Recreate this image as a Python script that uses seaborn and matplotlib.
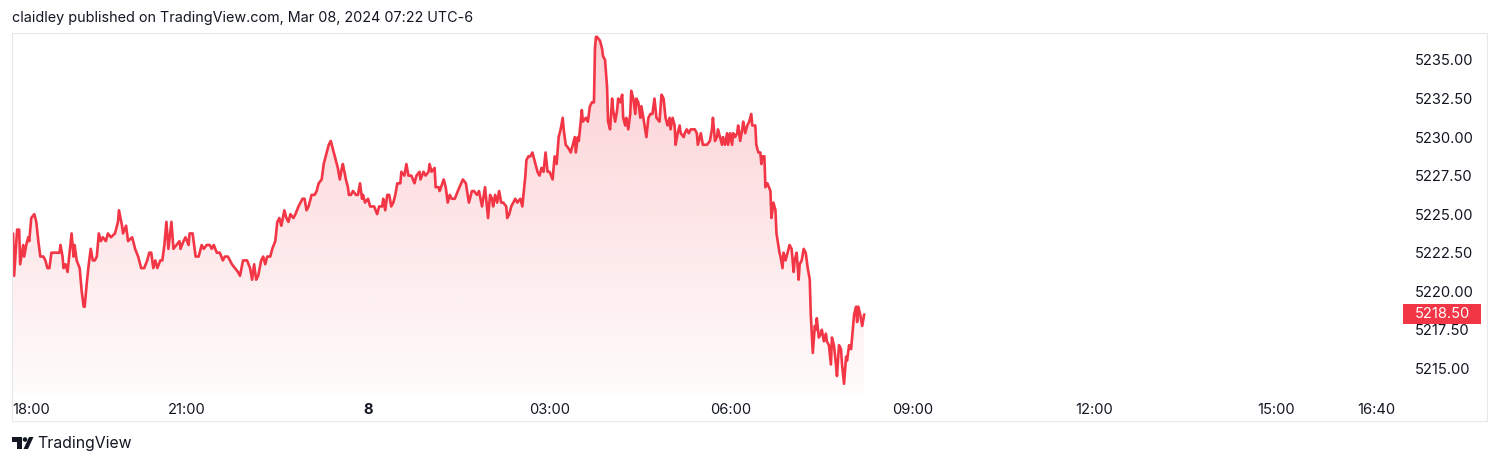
import numpy as np
import pandas as pd
import matplotlib
matplotlib.use("Agg")
import matplotlib.pyplot as plt
import matplotlib.transforms as mtransforms
import seaborn as sns
from matplotlib.colors import to_rgb
from matplotlib.patches import Rectangle, Ellipse, Polygon

RED = "#F23645"
TXT = "#131722"

# ── data: ES futures, minutes since Mar 07 18:00 (UTC-6) and price ─────────
minutes = [
    8, 9, 12, 14, 15, 18, 19, 21, 23, 24, 26, 29, 31, 33, 35, 38, 40, 42, 44, 46,
    51, 54, 55, 57, 58, 60, 62, 66, 68, 69, 71, 74, 76, 78, 79, 81, 83, 85, 87, 89,
    91, 93, 95, 97, 100, 102, 105, 109, 112, 113, 116, 117, 120, 122, 126, 129, 132, 135, 138, 141,
    143, 145, 147, 149, 151, 154, 156, 158, 160, 162, 165, 167, 170, 173, 174, 177, 179, 182, 183, 186,
    189, 192, 195, 197, 200, 203, 205, 207, 210, 213, 216,
    218, 221, 225, 228, 231, 233, 236, 240, 243, 245, 247, 249, 251, 254, 256, 258, 260, 263, 265, 268,
    270, 272, 274, 277, 279, 281, 283, 286, 288, 291, 293, 295, 297, 299, 301, 304, 307, 309, 311, 314,
    316, 317, 319, 321, 323, 326, 328, 330, 332, 334, 335, 338, 340, 341, 343, 345, 348, 350, 352, 354,
    355, 357, 360, 362, 364, 366, 369, 371, 374, 375, 377, 379, 381, 383, 385, 387, 389, 392, 393, 396,
    398, 400, 403, 406, 408, 411, 412, 415, 417, 420, 421, 423, 426, 427, 430,
    431, 435, 437, 439, 441, 443, 446, 449, 454, 457, 460, 463, 465, 468, 470, 473, 476, 479, 481, 483,
    484, 486, 488, 490, 492, 494, 497, 498, 500, 502, 504, 506, 508, 511, 513, 516, 517, 519, 521, 523,
    526, 528, 530, 532, 534, 536, 538, 540, 543, 545, 547, 549, 551, 553, 554, 556, 559, 561, 563, 565,
    566, 568, 569, 572, 573, 576, 578, 580, 582, 584, 585, 586, 587, 590, 592, 593, 595, 597, 598, 600,
    602, 603, 605, 607, 608, 610, 612, 613, 615, 616, 618, 620, 621, 623, 625, 626, 628, 630, 631, 633,
    636, 638, 640, 642, 644,
    646, 649, 651, 653, 655, 657, 659, 660, 662, 664, 665, 667, 669, 670, 673, 674, 676, 678, 680, 684,
    686, 687, 690, 692, 696, 699, 701, 702, 704, 706, 707, 709, 711, 712, 714, 716, 717, 719, 721, 722,
    724, 726, 727, 729, 731, 732, 734, 736, 738, 740, 741, 744, 745, 747, 749, 750, 751, 753, 754, 756,
    759, 760, 762, 764, 765, 768, 769, 771, 772, 774, 776, 778, 780, 782, 783, 785, 787, 788, 790, 792,
    794, 796, 798, 799, 801, 803, 804, 805, 807, 809, 810, 812, 814, 815, 817, 819, 820, 822, 824, 825,
    827, 829, 830, 832, 834, 835, 837, 839, 840, 842, 844, 845, 846, 848, 850, 852,
]
price = [
    5223.75, 5221.00, 5224.00, 5224.00, 5221.75, 5223.00, 5222.25, 5223.00, 5223.50, 5223.25,
    5224.75, 5225.00, 5224.50, 5223.25, 5222.25, 5222.25, 5222.00, 5221.50, 5221.50, 5222.50,
    5222.50, 5222.50, 5223.00, 5222.25, 5221.50, 5221.75, 5221.25, 5223.75, 5222.25, 5223.00,
    5222.00, 5221.50, 5220.00, 5219.00, 5219.00, 5220.50, 5221.75, 5222.75, 5222.00, 5222.00,
    5222.25, 5223.75, 5223.25, 5223.50, 5223.25, 5223.75, 5223.50, 5223.75, 5224.50, 5225.25,
    5224.25, 5223.75, 5224.25, 5223.25, 5223.50, 5222.75, 5222.25, 5221.50, 5221.50, 5222.00,
    5222.50, 5222.50, 5221.50, 5222.00, 5221.50, 5222.00, 5222.00, 5223.00, 5224.50, 5222.75,
    5224.50, 5222.75, 5223.00, 5223.25, 5222.75, 5223.25, 5223.50, 5223.00, 5223.75, 5223.75,
    5222.25, 5222.25, 5223.00, 5222.75, 5223.00, 5223.00, 5222.75, 5223.00, 5222.50, 5222.50,
    5222.00,
    5222.25, 5222.25, 5221.75, 5221.50, 5221.25, 5221.00, 5222.00, 5222.00, 5221.50, 5220.75,
    5221.75, 5220.75, 5221.00, 5222.00, 5222.25, 5221.75, 5222.25, 5222.25, 5222.75, 5223.25,
    5224.50, 5224.75, 5224.25, 5225.25, 5224.75, 5224.50, 5225.00, 5224.75, 5225.00, 5225.50,
    5225.75, 5226.00, 5226.00, 5225.25, 5225.50, 5226.25, 5226.25, 5226.50, 5227.00, 5227.25,
    5228.25, 5228.50, 5229.00, 5229.50, 5229.75, 5229.00, 5228.50, 5228.00, 5227.25, 5228.00,
    5228.25, 5227.25, 5226.75, 5226.25, 5226.25, 5226.50, 5226.25, 5226.25, 5227.00, 5226.00,
    5226.25, 5225.75, 5226.00, 5225.50, 5225.50, 5225.50, 5225.00, 5225.50, 5225.50, 5226.00,
    5225.25, 5226.25, 5226.25, 5225.50, 5225.75, 5226.25, 5227.00, 5227.00, 5227.75, 5227.50,
    5228.25, 5227.50, 5227.50, 5227.00, 5227.50, 5227.75, 5227.25, 5227.75, 5227.50, 5227.75,
    5228.25, 5227.75, 5228.00, 5226.75, 5226.75,
    5226.50, 5227.25, 5226.75, 5225.75, 5226.25, 5226.00, 5226.00, 5226.50, 5227.25, 5227.00,
    5225.75, 5226.50, 5226.50, 5226.25, 5226.50, 5225.50, 5226.75, 5224.75, 5226.25, 5226.00,
    5225.50, 5226.25, 5225.75, 5226.50, 5225.75, 5225.75, 5225.50, 5224.75, 5225.00, 5225.50,
    5225.75, 5226.00, 5225.75, 5226.00, 5225.50, 5227.50, 5228.50, 5228.75, 5228.75, 5229.00,
    5228.25, 5227.75, 5227.50, 5228.00, 5227.75, 5229.00, 5227.75, 5227.75, 5227.25, 5228.75,
    5228.25, 5230.00, 5230.50, 5231.25, 5230.50, 5229.50, 5229.25, 5229.00, 5229.50, 5230.00,
    5229.00, 5230.00, 5229.75, 5231.75, 5231.00, 5231.25, 5231.00, 5232.00, 5232.25, 5232.25,
    5235.75, 5236.50, 5236.50, 5236.25, 5235.75, 5235.25, 5235.00, 5233.25, 5231.00, 5230.50,
    5232.50, 5231.75, 5231.00, 5231.75, 5232.50, 5232.25, 5232.75, 5231.25, 5230.75, 5231.25,
    5230.50, 5231.50, 5233.00, 5232.50, 5231.50, 5232.50, 5232.25, 5231.25, 5232.00, 5231.25,
    5230.00, 5231.25, 5231.50, 5231.50, 5232.50,
    5231.25, 5231.00, 5232.75, 5232.50, 5231.25, 5230.75, 5231.25, 5230.50, 5231.25, 5230.75,
    5229.50, 5230.25, 5230.75, 5230.25, 5230.00, 5230.25, 5230.50, 5230.25, 5230.50, 5230.50,
    5230.25, 5229.50, 5230.25, 5229.50, 5229.50, 5229.75, 5230.50, 5231.25, 5229.75, 5230.00,
    5230.50, 5230.00, 5229.50, 5230.00, 5229.50, 5230.25, 5229.50, 5230.25, 5229.50, 5230.25,
    5230.00, 5230.25, 5230.75, 5229.75, 5230.50, 5231.00, 5230.25, 5230.75, 5231.00, 5231.50,
    5230.75, 5230.75, 5229.50, 5229.00, 5229.00, 5228.25, 5228.75, 5228.75, 5226.75, 5227.00,
    5226.50, 5224.75, 5225.75, 5225.25, 5223.75, 5222.50, 5222.25, 5221.50, 5222.50, 5222.00,
    5222.50, 5223.00, 5222.75, 5221.25, 5222.00, 5222.50, 5220.75, 5221.75, 5222.00, 5222.75,
    5222.50, 5221.50, 5220.75, 5218.50, 5216.00, 5217.75, 5217.50, 5218.25, 5217.00, 5217.25,
    5217.50, 5216.75, 5217.25, 5216.75, 5216.50, 5215.25, 5217.00, 5216.50, 5215.25, 5214.50,
    5216.50, 5216.25, 5215.25, 5214.00, 5215.75, 5215.50, 5216.50, 5216.25, 5217.00, 5218.50,
    5219.00, 5218.00, 5219.00, 5218.50, 5217.75, 5218.50,
]

tick_minutes = [180, 360, 540, 720, 900, 1080, 1260, 1360]
tick_labels = ["21:00", "8", "03:00", "06:00", "09:00", "12:00", "15:00", "16:40"]
price_ticks = [5215.0, 5217.5, 5220.0, 5222.5, 5225.0, 5227.5, 5230.0, 5232.5, 5235.0]
header = "claidley published on TradingView.com, Mar 08, 2024 07:22 UTC-6"

df = pd.DataFrame({"minute": minutes, "price": price})
last = df["price"].iloc[-1]

sns.set_theme(style="white")
plt.rcParams["font.family"] = ["Inter", "DejaVu Sans"]

W, H = 1500, 465
fig = plt.figure(figsize=(W / 100, H / 100), dpi=100)


def fx(x):
    return x / W


def fy(y):
    return 1 - y / H


ax = fig.add_axes([fx(12), fy(393), (1403 - 12) / W, (393 - 33) / H])
XLIM = (6.9, 1386.3)
YLIM = (5213.40, 5236.75)
FS = 10.6

sns.lineplot(data=df, x="minute", y="price", color=RED, lw=1.9, ax=ax, zorder=3)

# ── gradient fill under the line ───────────────────────────────────────────
n = 256
rgba = np.zeros((n, 1, 4))
rgba[..., :3] = to_rgb(RED)
rgba[:, 0, 3] = np.linspace(0.02, 0.24, n)
im = ax.imshow(rgba, extent=[XLIM[0], XLIM[1], YLIM[0], df["price"].max()],
               origin="lower", aspect="auto", zorder=1, interpolation="bilinear")
fill = ax.fill_between(df["minute"], df["price"], YLIM[0], facecolor="none", lw=0)
im.set_clip_path(fill.get_paths()[0], transform=ax.transData)

ax.set_xlim(*XLIM)
ax.set_ylim(*YLIM)
for s in ax.spines.values():
    s.set_visible(False)
ax.set_xlabel("")
ax.set_ylabel("")

# ── axes ticks ─────────────────────────────────────────────────────────────
ax.yaxis.tick_right()
ax.set_yticks(price_ticks)
ax.set_yticklabels([f"{v:.2f}" for v in price_ticks])
ax.tick_params(axis="y", length=0, pad=8.5, labelsize=FS, labelcolor=TXT)
ax.set_xticks(tick_minutes)
ax.set_xticklabels(tick_labels)
ax.tick_params(axis="x", length=0, pad=7.5, labelsize=FS, labelcolor=TXT)
ax.get_xticklabels()[1].set_fontweight("bold")
ax.annotate("18:00", xy=(0, 0), xycoords="axes fraction", xytext=(0, -7.5),
            textcoords="offset points", ha="left", va="top", fontsize=FS, color=TXT)

# last price badge
blend = mtransforms.blended_transform_factory(ax.transAxes, ax.transData)
ax.add_patch(Rectangle((1.0, last - 0.65), 78 / 1391, 1.30, transform=blend,
                       clip_on=False, fc=RED, ec="none", zorder=5))
ax.annotate(f"{last:.2f}", xy=(1.0, last), xycoords=blend, xytext=(8.5, 0),
            textcoords="offset points", ha="left", va="center", fontsize=FS,
            color="white", zorder=6)

# ── frame, header, logo ────────────────────────────────────────────────────
fig.add_artist(Rectangle((fx(12), fy(421)), (1487 - 12) / W, (421 - 33) / H,
                         transform=fig.transFigure, fill=False, ec="#E6E8EC", lw=0.8))
fig.text(fx(12), fy(18), header, ha="left", va="center", fontsize=10.35, color=TXT)

t_shape = [(12, 437), (21.5, 437), (21.5, 449), (17, 449), (17, 441.5), (12, 441.5)]
slash = [(29, 437), (33.5, 437), (28, 449), (23.5, 449)]
for pts in (t_shape, slash):
    fig.add_artist(Polygon([(fx(a), fy(b)) for a, b in pts], closed=True,
                           transform=fig.transFigure, fc=TXT, ec="none"))
fig.add_artist(Ellipse((fx(25), fy(439.5)), 4.6 / W, 4.6 / H,
                       transform=fig.transFigure, fc=TXT, ec="none"))
fig.text(fx(37), fy(443), "TradingView", ha="left", va="center", fontsize=11.4, color=TXT)

fig.savefig("out.png", dpi=100)
